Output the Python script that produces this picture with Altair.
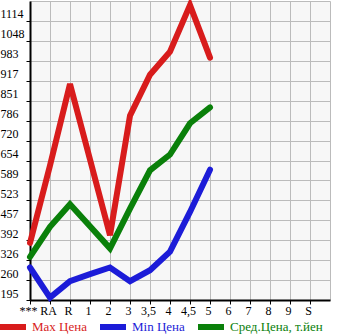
import altair as alt
import pandas as pd

categories = ["***", "RA", "R", "1", "2", "3", "3,5", "4", "4,5", "5", "6", "7", "8", "9", "S"]
max_price = [383, 638, 906, 658, 408, 802, 937, 1013, 1166, 993]
min_price = [302, 203, 257, 280, 302, 257, 293, 354, 485, 624]
avg_price = [337, 436, 510, 438, 365, 496, 622, 674, 777, 829]
y_ticks = [195, 260, 326, 392, 457, 523, 589, 654, 720, 786, 851, 917, 983, 1048, 1114]
series_names = ["Max Цена", "Min Цена", "Сред.Цена, т.йен"]
series_colors = ["#d81c1c", "#1c1cd8", "#0a800a"]

rows = []
for name, vals in zip(series_names, [max_price, min_price, avg_price]):
    for i, v in enumerate(vals):
        rows.append({"idx": i, "cat": categories[i], "value": v, "series": name})
df = pd.DataFrame(rows)

label_expr = "[" + ",".join("'" + c + "'" for c in categories) + "][datum.value]"
legend_color_expr = (
    f"datum.value == '{series_names[0]}' ? '{series_colors[0]}' : "
    f"datum.value == '{series_names[1]}' ? '{series_colors[1]}' : '{series_colors[2]}'"
)

FONT = "Liberation Serif"

chart = alt.Chart(df).mark_line(strokeWidth=6, strokeCap="round").encode(
    x=alt.X(
        "idx:Q",
        scale=alt.Scale(domain=[0, 15], nice=False, zero=False),
        axis=alt.Axis(
            title=None,
            values=list(range(len(categories))),
            labelExpr=label_expr,
            grid=True,
            gridColor="#bbbbbb",
            gridWidth=1,
            domainColor="#000000",
            domainWidth=2,
            tickColor="#000000",
            tickSize=4,
            labelPadding=1,
            labelOffset=-2,
            labelFont=FONT,
            labelFontSize=12,
            labelColor="#000000",
            labelFlush=False,
            labelOverlap=False,
        ),
    ),
    y=alt.Y(
        "value:Q",
        scale=alt.Scale(domain=[195, 1179.6], nice=False, zero=False),
        axis=alt.Axis(
            title=None,
            values=y_ticks,
            format="d",
            grid=True,
            gridColor="#bbbbbb",
            gridWidth=1,
            domainColor="#000000",
            domainWidth=2,
            tickColor="#000000",
            tickSize=4,
            labelAlign="left",
            labelBaseline="bottom",
            labelPadding=26,
            labelFont=FONT,
            labelFontSize=12,
            labelColor="#000000",
            labelFlush=False,
            labelOverlap=False,
        ),
    ),
    color=alt.Color(
        "series:N",
        scale=alt.Scale(domain=series_names, range=series_colors),
        legend=alt.Legend(
            title=None,
            orient="none",
            legendX=-33,
            legendY=310,
            direction="horizontal",
            columns=3,
            gridAlign="none",
            symbolType="stroke",
            symbolSize=676,
            symbolStrokeWidth=6,
            labelFont=FONT,
            labelFontSize=13,
            labelColor={"expr": legend_color_expr},
            labelOffset=3,
            columnPadding=1,
            padding=0,
        ),
    ),
    order=alt.Order("idx:Q"),
).properties(
    width=300,
    height=299,
    padding={"left": 30, "top": 1, "right": 15, "bottom": 35},
    autosize=alt.AutoSizeParams(type="none"),
    background="#ffffff",
).configure_view(
    fill="#f7f7f7",
    stroke="#bbbbbb",
    strokeWidth=1,
)

chart.save("out.html", embed_options={"renderer": "svg", "actions": False})
